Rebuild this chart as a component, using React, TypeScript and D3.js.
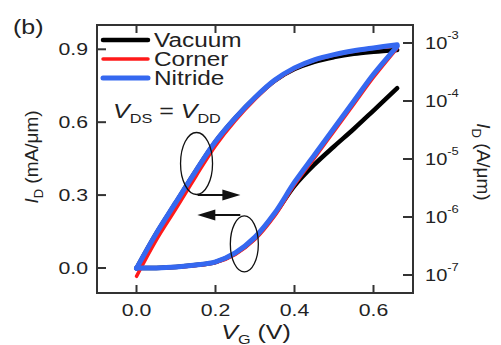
import React from "react";
import * as d3 from "d3";

// gate voltage samples (V)
const vg = [0, 0.05, 0.1, 0.15, 0.2, 0.25, 0.3, 0.35, 0.4, 0.45, 0.5, 0.55, 0.6, 0.66];

// linear drain current (mA/um), left axis
const vacuumLin = [0, 0, 0.004, 0.012, 0.024, 0.06, 0.124, 0.222, 0.338, 0.425, 0.5, 0.572, 0.648, 0.74];
const cornerLin = [0, 0, 0.003, 0.01, 0.022, 0.056, 0.118, 0.215, 0.342, 0.452, 0.563, 0.674, 0.785, 0.905];
const nitrideLin = [0, 0, 0.004, 0.012, 0.025, 0.062, 0.127, 0.226, 0.353, 0.464, 0.575, 0.686, 0.797, 0.912];

// log drain current (A/um), right axis
const vacuumLog = [1.3e-7, 5.2e-7, 1.8e-6, 6.2e-6, 2.0e-5, 5.1e-5, 1.14e-4, 2.25e-4, 3.55e-4, 4.75e-4, 5.7e-4, 6.5e-4, 7.05e-4, 7.6e-4];
const cornerLog = [0.95e-7, 4.0e-7, 1.4e-6, 5.0e-6, 1.7e-5, 4.6e-5, 1.07e-4, 2.2e-4, 3.6e-4, 5.0e-4, 6.2e-4, 7.2e-4, 8.1e-4, 9.0e-4];
const nitrideLog = [1.3e-7, 5.2e-7, 1.8e-6, 6.2e-6, 2.0e-5, 5.1e-5, 1.15e-4, 2.29e-4, 3.72e-4, 5.13e-4, 6.31e-4, 7.33e-4, 8.22e-4, 9.33e-4];

const xTicks = [0, 0.2, 0.4, 0.6];
const yTicks = [0, 0.3, 0.6, 0.9];
const rExps = [-7, -6, -5, -4, -3];

const series = [
  { name: "Vacuum", color: "#000000", width: 4.5, lin: vacuumLin, log: vacuumLog },
  { name: "Corner", color: "#ff1a1a", width: 3.5, lin: cornerLin, log: cornerLog },
  { name: "Nitride", color: "#3568f0", width: 5, lin: nitrideLin, log: nitrideLog },
];

const W = 501;
const H = 345;
const m = { left: 97, right: 413, top: 25, bottom: 293 };
const font = "'Liberation Sans', Arial, sans-serif";
const ink = "#222";
const SX = 1.25; // text in the figure is a bit wide

const x = d3.scaleLinear().domain([-0.1, 0.7]).range([m.left, m.right]);
const yL = d3.scaleLinear().domain([-0.103, 1.0]).range([m.bottom, m.top]);
const yR = d3.scaleLog().domain([Math.pow(10, -7.31), Math.pow(10, -2.69)]).range([m.bottom, m.top]);

const Wide = ({ x: tx, y: ty, children, anchor = "start", size = 17, rotate = 0, sx = SX }: any) => (
  <g transform={`translate(${tx},${ty}) rotate(${rotate}) scale(${sx},1)`}>
    <text textAnchor={anchor} fontSize={size} fontFamily={font} fill={ink}>
      {children}
    </text>
  </g>
);

const App = () => {
  const linPath = (vals: number[]) =>
    d3
      .line<number>()
      .x((_, i) => x(vg[i]))
      .y((d) => yL(d))
      .curve(d3.curveCatmullRom.alpha(0.5))(vals) || "";
  const logPath = (vals: number[]) =>
    d3
      .line<number>()
      .x((_, i) => x(vg[i]))
      .y((d) => yR(d))
      .curve(d3.curveCatmullRom.alpha(0.5))(vals) || "";

  const e1 = { cx: x(0.152), cy: yL(0.43), rx: 16, ry: 31 };
  const e2 = { cx: x(0.273), cy: yL(0.099), rx: 14, ry: 28 };
  const a1y = yL(0.3);
  const a2y = yL(0.218);

  return (
    <svg width={W} height={H} style={{ position: "absolute", left: 0, top: 0, background: "#fff" }}>
      <Wide x={13} y={34} size={20}>(b)</Wide>

      {/* curves */}
      {series.map((s) => (
        <g key={s.name}>
          <path d={linPath(s.lin)} fill="none" stroke={s.color} strokeWidth={s.width} strokeLinecap="round" />
          <path d={logPath(s.log)} fill="none" stroke={s.color} strokeWidth={s.width} strokeLinecap="round" />
        </g>
      ))}

      {/* frame */}
      <rect x={m.left} y={m.top} width={m.right - m.left} height={m.bottom - m.top} fill="none" stroke="#333" strokeWidth={2} />

      {/* x ticks */}
      {xTicks.map((t) => (
        <g key={t}>
          <line x1={x(t)} x2={x(t)} y1={m.bottom} y2={m.bottom - 8} stroke="#333" strokeWidth={2} />
          <line x1={x(t)} x2={x(t)} y1={m.top} y2={m.top + 8} stroke="#333" strokeWidth={2} />
          <Wide x={x(t)} y={316} anchor="middle">{t.toFixed(1)}</Wide>
        </g>
      ))}

      {/* left ticks */}
      {yTicks.map((t) => (
        <g key={t}>
          <line x1={m.left} x2={m.left + 9} y1={yL(t)} y2={yL(t)} stroke="#333" strokeWidth={2} />
          <Wide x={88} y={yL(t) + 6} anchor="end">{t.toFixed(1)}</Wide>
        </g>
      ))}

      {/* right log ticks */}
      {rExps.map((e) => (
        <g key={e}>
          <line x1={m.right} x2={m.right - 10} y1={yR(Math.pow(10, e))} y2={yR(Math.pow(10, e))} stroke="#333" strokeWidth={2} />
          <Wide x={425} y={yR(Math.pow(10, e)) + 6} sx={1.18}>
            10<tspan dy={-10} fontSize={11}>{e}</tspan>
          </Wide>
        </g>
      ))}

      {/* axis titles */}
      <Wide x={256} y={339} anchor="middle" size={20}>
        <tspan fontStyle="italic">V</tspan>
        <tspan fontSize={13} dy={5}>G</tspan>
        <tspan dy={-5}> (V)</tspan>
      </Wide>
      <g transform={`translate(38,157) rotate(-90)`}>
        <text textAnchor="middle" fontSize={19} fontFamily={font} fill={ink}>
          <tspan fontStyle="italic">I</tspan>
          <tspan fontSize={13} dy={5}>D</tspan>
          <tspan dy={-5}> (mA/μm)</tspan>
        </text>
      </g>
      <g transform={`translate(477,162) rotate(90)`}>
        <text textAnchor="middle" fontSize={19} fontFamily={font} fill={ink}>
          <tspan fontStyle="italic">I</tspan>
          <tspan fontSize={13} dy={5}>D</tspan>
          <tspan dy={-5}> (A/μm)</tspan>
        </text>
      </g>

      {/* legend */}
      {series.map((s, i) => {
        const ly = 40 + i * 19;
        return (
          <g key={s.name}>
            <line x1={103} x2={148} y1={ly} y2={ly} stroke={s.color} strokeWidth={s.width} strokeLinecap="round" />
            <Wide x={154} y={ly + 7} size={19.5}>{s.name}</Wide>
          </g>
        );
      })}

      <Wide x={113} y={118} size={20}>
        <tspan fontStyle="italic">V</tspan>
        <tspan fontSize={13} dy={5}>DS</tspan>
        <tspan dy={-5}> = </tspan>
        <tspan fontStyle="italic">V</tspan>
        <tspan fontSize={13} dy={5}>DD</tspan>
      </Wide>

      {/* annotations */}
      <ellipse cx={e1.cx} cy={e1.cy} rx={e1.rx} ry={e1.ry} fill="none" stroke="#111" strokeWidth={1.3} />
      <ellipse cx={e2.cx} cy={e2.cy} rx={e2.rx} ry={e2.ry} fill="none" stroke="#111" strokeWidth={1.3} />
      <line x1={e1.cx + 1} x2={x(0.24)} y1={a1y} y2={a1y} stroke="#111" strokeWidth={2} />
      <path d={`M${x(0.263)},${a1y} l-18,-5.5 l0,11 z`} fill="#111" />
      <line x1={e2.cx - 4} x2={x(0.176)} y1={a2y} y2={a2y} stroke="#111" strokeWidth={2} />
      <path d={`M${x(0.154)},${a2y} l18,-5.5 l0,11 z`} fill="#111" />
    </svg>
  );
};

export default App;
